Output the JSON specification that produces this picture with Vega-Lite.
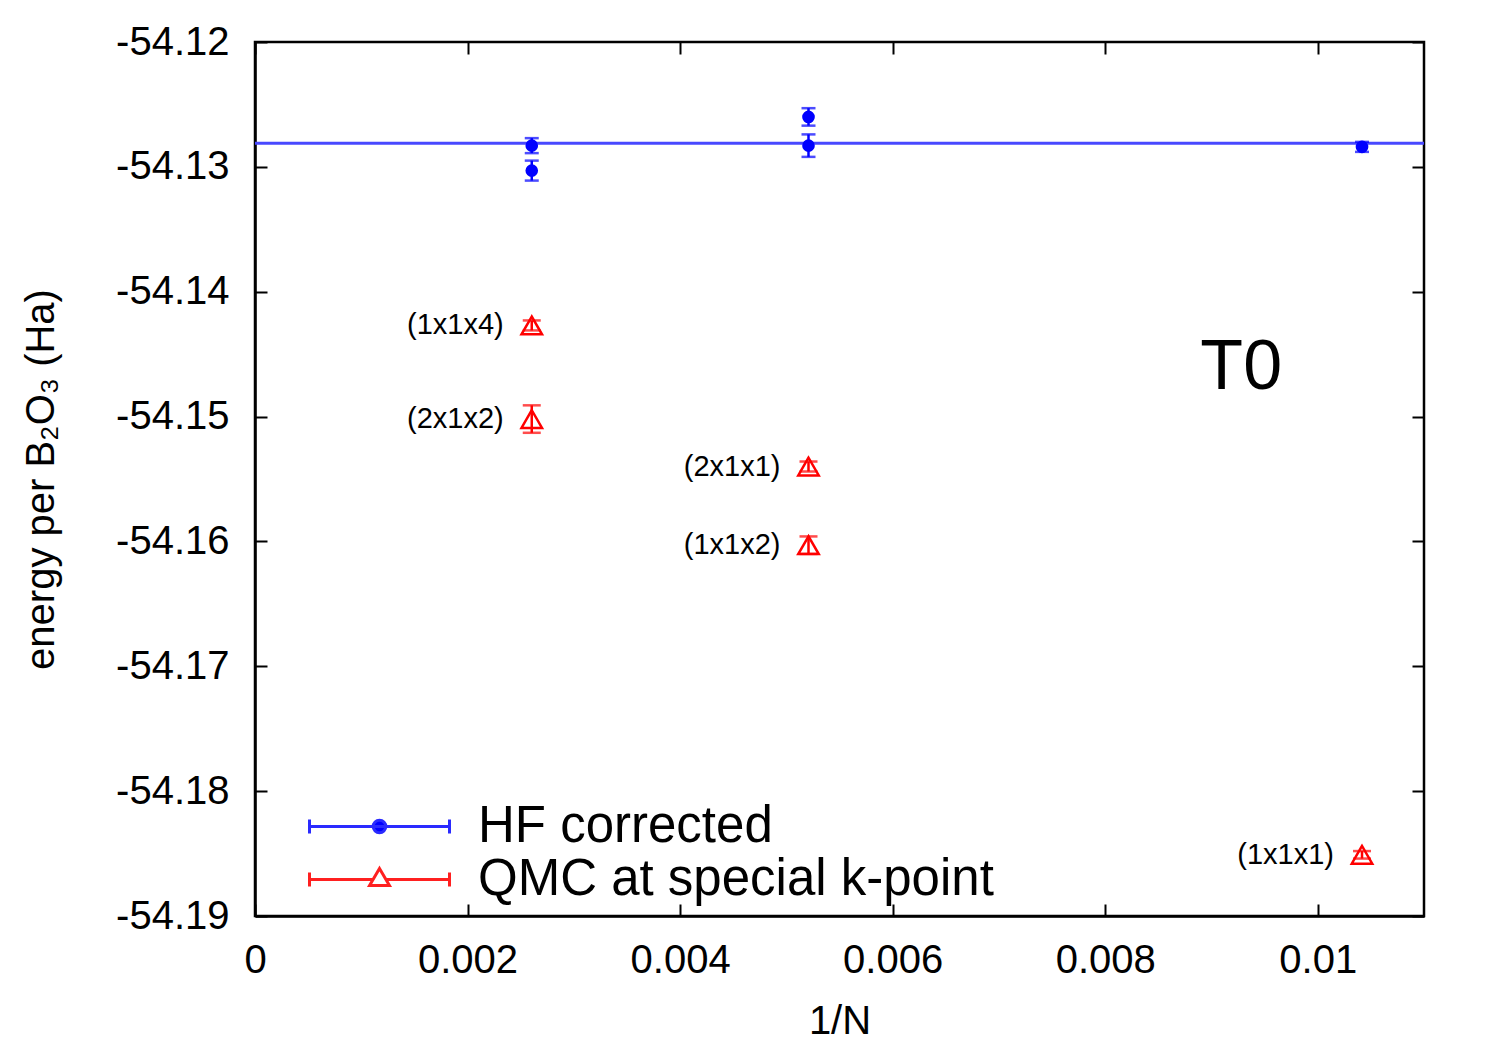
{
  "$schema": "https://vega.github.io/schema/vega-lite/v6.json",
  "width": 1169,
  "height": 874,
  "autosize": {"type": "none"},
  "padding": {"left": 255, "top": 42, "right": 76, "bottom": 134},
  "background": "white",
  "config": {
    "font": "Liberation Sans",
    "view": {"stroke": "black", "strokeWidth": 2.5},
    "axis": {
      "domainColor": "black",
      "domainWidth": 2.5,
      "tickColor": "black",
      "tickWidth": 2,
      "tickSize": -12,
      "grid": false,
      "labelFont": "Liberation Sans",
      "labelFontSize": 40,
      "labelColor": "black",
      "labelFlush": false,
      "labelOverlap": false,
      "titleFont": "Liberation Sans",
      "titleFontSize": 40,
      "titleFontWeight": "normal",
      "titleColor": "black"
    }
  },
  "resolve": {"axis": {"x": "independent", "y": "independent"}},
  "layer": [
    {
      "data": {
        "values": [
          {"x": 0.0026042, "y": -54.1283, "err": 0.0006, "series": "HF corrected", "label": ""},
          {"x": 0.0026042, "y": -54.1303, "err": 0.0008, "series": "HF corrected", "label": ""},
          {"x": 0.0052083, "y": -54.1260, "err": 0.0007, "series": "HF corrected", "label": ""},
          {"x": 0.0052083, "y": -54.1283, "err": 0.0009, "series": "HF corrected", "label": ""},
          {"x": 0.0104167, "y": -54.1284, "err": 0.0004, "series": "HF corrected", "label": ""},
          {"x": 0.0026042, "y": -54.1427, "err": 0.0004, "series": "QMC at special k-point", "label": "(1x1x4)"},
          {"x": 0.0026042, "y": -54.1502, "err": 0.0011, "series": "QMC at special k-point", "label": "(2x1x2)"},
          {"x": 0.0052083, "y": -54.1540, "err": 0.0004, "series": "QMC at special k-point", "label": "(2x1x1)"},
          {"x": 0.0052083, "y": -54.1603, "err": 0.0007, "series": "QMC at special k-point", "label": "(1x1x2)"},
          {"x": 0.0104167, "y": -54.1851, "err": 0.0003, "series": "QMC at special k-point", "label": "(1x1x1)"}
        ]
      },
      "encoding": {
        "x": {
          "field": "x", "type": "quantitative", "title": "1/N",
          "scale": {"domain": [0, 0.011], "nice": false, "zero": false},
          "axis": {"values": [0, 0.002, 0.004, 0.006, 0.008, 0.01], "format": "~g", "labelPadding": 36, "titlePadding": 21}
        },
        "y": {
          "field": "y", "type": "quantitative", "title": "energy per B₂O₃ (Ha)",
          "scale": {"domain": [-54.19, -54.12], "nice": false, "zero": false},
          "axis": {
            "values": [-54.19, -54.18, -54.17, -54.16, -54.15, -54.14, -54.13, -54.12],
            "labelExpr": "replace(format(datum.value, '.2f'), '\u2212', '-')",
            "labelPadding": 38,
            "titlePadding": 54
          }
        }
      },
      "layer": [
        {
          "data": {"values": [{"fit": -54.1281}]},
          "mark": {"type": "rule", "color": "#4848ff", "strokeWidth": 3},
          "encoding": {
            "x": null,
            "y": {"field": "fit", "type": "quantitative", "title": "energy per B₂O₃ (Ha)"}
          }
        },
        {
          "transform": [{"filter": "datum.series == 'HF corrected'"}],
          "mark": {"type": "errorbar", "color": "#0000ff", "ticks": true, "size": 14, "thickness": 2.5},
          "encoding": {
            "yError": {"field": "err"}
          }
        },
        {
          "transform": [{"filter": "datum.series == 'HF corrected'"}],
          "mark": {"type": "point", "shape": "circle", "filled": true, "color": "#0000ff", "size": 160, "opacity": 1}
        },
        {
          "transform": [{"filter": "datum.series != 'HF corrected'"}],
          "mark": {"type": "errorbar", "color": "#ff0000", "ticks": true, "size": 18, "thickness": 2.5},
          "encoding": {
            "yError": {"field": "err"}
          }
        },
        {
          "transform": [{"filter": "datum.series != 'HF corrected'"}],
          "mark": {"type": "point", "shape": "triangle-up", "filled": false, "color": "#ff0000", "size": 420, "strokeWidth": 2.5, "opacity": 1}
        },
        {
          "transform": [{"filter": "datum.series != 'HF corrected'"}],
          "mark": {"type": "text", "align": "right", "baseline": "middle", "dx": -28, "fontSize": 29, "color": "black", "font": "Liberation Sans"},
          "encoding": {
            "text": {"field": "label"}
          }
        },
        {
          "transform": [{"filter": "false"}],
          "mark": {"type": "point", "filled": true, "strokeWidth": 3, "opacity": 1},
          "encoding": {
            "shape": {
              "field": "series", "type": "nominal",
              "scale": {
                "domain": ["HF corrected", "QMC at special k-point"],
                "range": [
                  "M-5,0H5M-5,-0.5V0.5M5,-0.5V0.5M0.45,0A0.45,0.45 0 1,1 -0.45,0A0.45,0.45 0 1,1 0.45,0Z",
                  "M-5,0H-0.46M0.46,0H5M-5,-0.5V0.5M5,-0.5V0.5M0,-0.79L0.71,0.43L-0.71,0.43Z"
                ]
              },
              "legend": {
                "orient": "none",
                "legendX": 99,
                "legendY": 759,
                "title": null,
                "padding": 0,
                "labelFontSize": 51,
                "labelFont": "Liberation Sans",
                "labelColor": "black",
                "labelOffset": 73,
                "labelLimit": 0,
                "symbolSize": 784,
                "symbolStrokeWidth": 3,
                "rowPadding": 1
              }
            },
            "stroke": {
              "field": "series", "type": "nominal",
              "scale": {"domain": ["HF corrected", "QMC at special k-point"], "range": ["#2a2aff", "#ff2020"]}
            },
            "fill": {
              "field": "series", "type": "nominal",
              "scale": {"domain": ["HF corrected", "QMC at special k-point"], "range": ["#0000ff", "#ffffff"]}
            }
          }
        }
      ]
    },
    {
      "data": {"values": [{"label": "T0"}]},
      "mark": {"type": "text", "fontSize": 70, "font": "Liberation Sans", "color": "black", "align": "center", "baseline": "middle"},
      "encoding": {
        "x": {
          "datum": 0.00928, "type": "quantitative",
          "axis": {"orient": "top", "labels": false, "title": null, "domain": false, "values": [0, 0.002, 0.004, 0.006, 0.008, 0.01]}
        },
        "y": {
          "datum": -54.1461, "type": "quantitative",
          "axis": {"orient": "right", "labels": false, "title": null, "domain": false, "values": [-54.19, -54.18, -54.17, -54.16, -54.15, -54.14, -54.13, -54.12]}
        },
        "text": {"field": "label"}
      }
    }
  ]
}
